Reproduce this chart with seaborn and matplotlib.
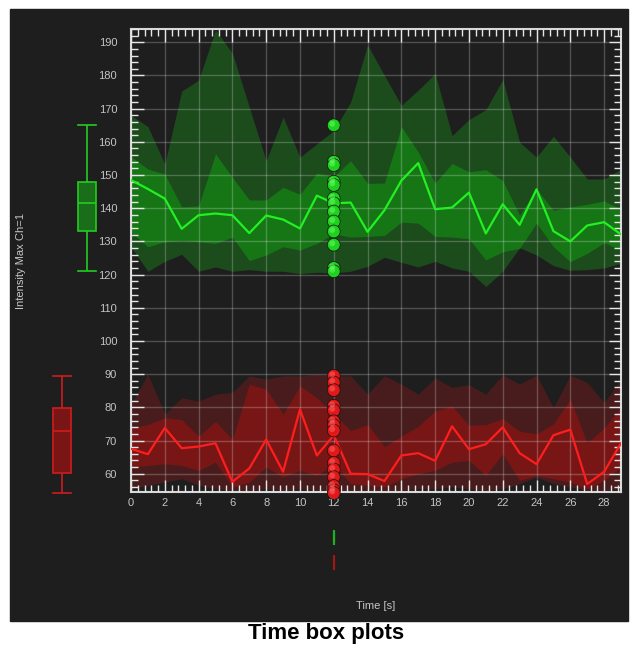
import numpy as np
import pandas as pd
import seaborn as sns
import matplotlib.pyplot as plt
from matplotlib.patches import Rectangle
from matplotlib.ticker import MultipleLocator
from matplotlib.transforms import offset_copy

# time axis (s)
time_s = list(range(30))

# channel 1 (green): median line, inner band (quartiles), outer band (min/max)
green_median = [148.5, 145.8, 142.9, 133.8, 137.9, 138.4, 137.9, 132.5, 137.8, 136.6,
                133.9, 143.8, 141.5, 141.7, 132.9, 139.4, 148.3, 153.6, 139.7, 140.2,
                144.7, 132.4, 141.2, 135.0, 145.7, 133.1, 130.0, 134.8, 135.8, 132.1]
green_q_hi = [155.6, 151.8, 150.3, 140.4, 140.7, 156.4, 149.3, 142.5, 142.5, 146.3,
              144.2, 150.6, 149.5, 154.3, 147.5, 147.6, 164.6, 156.9, 147.6, 153.5,
              151.0, 151.6, 148.3, 137.9, 145.8, 139.4, 140.4, 141.2, 142.2, 139.7]
green_q_lo = [132.8, 128.4, 129.9, 130.3, 129.9, 129.4, 131.3, 124.2, 125.9, 128.4,
              127.4, 129.4, 132.3, 131.3, 131.5, 131.8, 135.8, 135.5, 131.5, 131.3,
              130.8, 124.4, 126.9, 127.9, 135.5, 128.4, 123.9, 126.4, 129.6, 127.4]
green_max = [168.0, 164.6, 153.3, 175.3, 178.6, 193.7, 186.7, 170.5, 154.3, 167.5,
             155.4, 159.4, 163.4, 172.0, 189.2, 180.0, 171.0, 175.6, 180.6, 161.9,
             166.7, 169.7, 178.8, 159.9, 155.4, 161.7, 155.4, 148.8, 148.8, 151.8]
green_min = [128.4, 121.0, 124.0, 126.1, 121.0, 122.3, 121.0, 121.5, 121.0, 121.0,
             120.3, 120.7, 120.5, 121.0, 122.5, 125.2, 123.7, 122.3, 124.0, 122.0,
             121.0, 116.4, 121.0, 128.1, 125.9, 122.7, 121.3, 121.5, 122.0, 123.4]

# channel 2 (red)
red_median = [67.5, 65.9, 73.8, 67.7, 68.2, 69.2, 57.6, 61.6, 70.3, 60.6,
              79.4, 65.5, 71.6, 60.0, 59.9, 57.8, 65.5, 66.2, 63.9, 74.3,
              67.4, 68.9, 74.0, 66.2, 62.9, 71.6, 73.3, 56.9, 60.6, 69.2]
red_q_hi = [73.8, 74.8, 76.9, 76.3, 71.3, 75.8, 70.3, 87.0, 85.5, 77.9,
            86.5, 82.9, 78.0, 73.0, 74.8, 68.2, 71.3, 74.3, 78.9, 80.4,
            74.6, 74.8, 76.6, 72.8, 72.0, 75.0, 82.4, 69.2, 73.8, 79.9]
red_q_lo = [62.0, 62.5, 63.0, 62.5, 61.0, 63.5, 56.0, 57.5, 62.0, 59.0,
            61.0, 59.5, 63.0, 57.0, 56.5, 56.0, 58.5, 60.0, 61.0, 63.5,
            64.0, 59.5, 66.0, 58.0, 59.5, 58.5, 57.5, 55.5, 58.0, 62.0]
red_max = [80.9, 90.0, 78.0, 82.9, 81.9, 84.0, 84.5, 89.5, 88.5, 89.5,
           89.5, 90.0, 89.5, 89.5, 84.0, 89.5, 87.0, 84.0, 88.8, 86.0,
           86.8, 84.0, 89.8, 87.0, 89.7, 79.9, 89.7, 87.5, 81.4, 88.5]
red_min = [55.5, 56.5, 57.5, 58.5, 56.5, 55.5, 55.0, 55.0, 55.5, 55.0,
           55.5, 55.0, 55.0, 55.0, 55.0, 55.0, 55.0, 55.5, 55.5, 56.0,
           55.5, 55.0, 55.5, 57.0, 59.0, 57.0, 56.0, 55.0, 55.0, 55.5]

# single time point measurements (spheres) at t = 12 s
sphere_time = 12
green_spheres = [165, 154, 153, 148, 147, 143, 141.5, 139, 136, 133, 129, 122, 121]
red_spheres = [89.5, 87.5, 85.2, 80.5, 79.1, 75.8, 74.6, 73, 67, 63.3, 61.3, 59, 56.3, 55, 54.2]

BG = '#1e1e1e'
GRN = dict(outer='#1c4b1c', inner='#167616', line='#22f022', dot='#1ed21e',
           box='#1a6e1a', edge='#22cc22', tbox='#20b020')
RED = dict(outer='#481c1c', inner='#781616', line='#ff1e1e', dot='#e01818',
           box='#7a1515', edge='#d01c1c', tbox='#a01818')

plt.rcParams['font.family'] = ['Liberation Sans', 'DejaVu Sans']

W, H = 633, 648
fig = plt.figure(figsize=(W / 100, H / 100), dpi=100)
fig.add_artist(Rectangle((10 / W, 1 - 621 / H), 618 / W, 612 / H,
                         transform=fig.transFigure, color=BG, zorder=-5))

left, right, top, bottom = 131, 621, 29, 492
ax = fig.add_axes([left / W, 1 - bottom / H, (right - left) / W, (bottom - top) / H])
ax.set_facecolor(BG)

# bands
for c, lo, hi, qlo, qhi in [(GRN, green_min, green_max, green_q_lo, green_q_hi),
                            (RED, red_min, red_max, red_q_lo, red_q_hi)]:
    ax.fill_between(time_s, lo, hi, color=c['outer'], lw=0, zorder=1)
    ax.fill_between(time_s, qlo, qhi, color=c['inner'], lw=0, zorder=1.5)

lines = pd.DataFrame({'time': time_s * 2,
                      'value': green_median + red_median,
                      'channel': ['green'] * 30 + ['red'] * 30})
sns.lineplot(data=lines, x='time', y='value', hue='channel',
             palette={'green': GRN['line'], 'red': RED['line']},
             lw=1.6, legend=False, ax=ax, zorder=5)

# spheres
spheres = pd.DataFrame({'time': [sphere_time] * (len(green_spheres) + len(red_spheres)),
                        'value': green_spheres + red_spheres,
                        'channel': ['green'] * len(green_spheres) + ['red'] * len(red_spheres)})
sns.scatterplot(data=spheres, x='time', y='value', hue='channel',
                palette={'green': GRN['dot'], 'red': RED['dot']},
                s=85, edgecolor='#121212', linewidth=0.5, legend=False,
                ax=ax, zorder=8, clip_on=False)
hl = offset_copy(ax.transData, fig=fig, x=-1.5, y=1.5, units='dots')
ax.scatter(spheres['time'], spheres['value'], s=18,
           c=['#6dff6d' if ch == 'green' else '#ff6a6a' for ch in spheres['channel']],
           alpha=0.5, lw=0, transform=hl, zorder=9, clip_on=False)

ax.set_xlim(0, 29)
ax.set_ylim(54.5, 194)
ax.set_yticks(range(60, 191, 10))
ax.xaxis.set_major_locator(MultipleLocator(2))
ax.xaxis.set_minor_locator(MultipleLocator(0.4))
ax.yaxis.set_minor_locator(MultipleLocator(2))
ax.tick_params(which='both', direction='in', top=True, right=True,
               color='#e6e6e6', labelcolor='#c4c4c4', labelsize=8)
ax.tick_params(which='major', length=9, width=1)
ax.tick_params(which='minor', length=5, width=1)
ax.tick_params(axis='y', pad=10)
ax.tick_params(axis='x', pad=4)
ax.set_axisbelow(False)
ax.grid(True, which='major', color='white', alpha=0.22, lw=1)
for sp in ax.spines.values():
    sp.set_color('#d8d8d8')
    sp.set_linewidth(1.5)
ax.set_xlabel('')
ax.set_ylabel('')

# value box plots on the left
box_df = pd.DataFrame({'channel': ['green'] * len(green_spheres) + ['red'] * len(red_spheres),
                       'value': green_spheres + red_spheres})
axl = fig.add_axes([49.5 / W, 1 - bottom / H, 50 / W, (bottom - top) / H])
axl.set_facecolor('none')
for ch, c in [('red', RED), ('green', GRN)]:
    sns.boxplot(data=box_df[box_df['channel'] == ch], x='channel', y='value',
                order=['red', 'green'], color=c['box'], linecolor=c['edge'],
                saturation=1, width=0.72, whis=np.inf, linewidth=1.2,
                capwidths=0.72, ax=axl)
axl.set_xlim(-0.5, 1.5)
axl.set_ylim(54.5, 194)
axl.axis('off')
for art in axl.lines + axl.patches:
    art.set_clip_on(False)

# time box plots below
time_df = pd.DataFrame({'channel': ['green'] * len(green_spheres) + ['red'] * len(red_spheres),
                        'time': [sphere_time] * (len(green_spheres) + len(red_spheres))})
axb = fig.add_axes([left / W, 1 - 575 / H, (right - left) / W, 50 / H])
axb.set_facecolor('none')
for ch, c in [('green', GRN), ('red', RED)]:
    sns.boxplot(data=time_df[time_df['channel'] == ch], x='time', y='channel',
                order=['green', 'red'], orient='h', color=c['tbox'], linecolor=c['tbox'],
                saturation=1, width=0.6, whis=np.inf, linewidth=1.5, ax=axb)
axb.set_xlim(0, 29)
axb.set_ylim(1.5, -0.5)
axb.axis('off')

fig.text(21.5 / W, 1 - 261 / H, 'Intensity Max Ch=1', rotation=90, ha='center', va='center',
         color='#c8c8c8', fontsize=8)
fig.text(376 / W, 1 - 606 / H, 'Time [s]', ha='center', va='center', color='#c4c4c4', fontsize=8)
fig.text(326 / W, 1 - 634 / H, 'Time box plots', ha='center', va='center',
         color='black', fontsize=16, fontweight='bold')

fig.savefig('out.png', dpi=100, facecolor='white')
